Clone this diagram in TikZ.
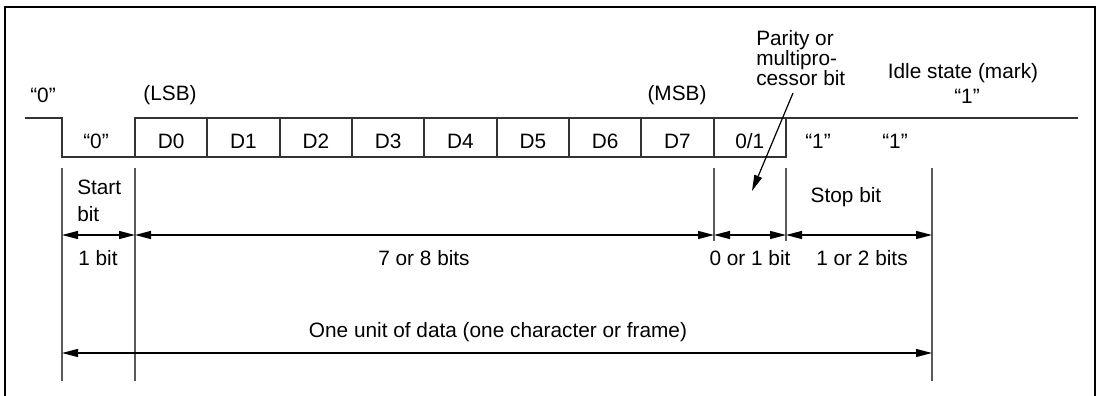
\documentclass[tikz,border=0pt]{standalone}
\usepackage{fontspec}
\setmainfont{Liberation Sans}
\usetikzlibrary{arrows.meta,positioning,calc}

\begin{document}
\begin{tikzpicture}[
  x=0.75pt, y=-0.75pt,
  lbl/.style={font=\fontsize{15.6}{15}\selectfont, inner sep=0pt},
  sig/.style={line width=1.3pt, black!80},
  tick/.style={line width=1.2pt, black!65},
  dim/.style={{Triangle[length=12pt,width=6pt]}-{Triangle[length=12pt,width=6pt]}, line width=0.9pt},
  >={Triangle[length=12pt,width=6pt]},
]
\useasboundingbox (0,0) rectangle (1097,396);
% frame
\draw[line width=2.2pt] (5,397) -- (5,7) -- (1095,7) -- (1095,397);

% signal
\draw[sig] (25,118) -- (62,118) -- (62,157) -- (786,157) -- (786,118);
\draw[sig] (135,157) -- (135,118) -- (1078,118);
\foreach \k in {1,...,8}
  \draw[sig] ({135+72.33*\k},118) -- ({135+72.33*\k},157);

% bit cells
\node[lbl] (c0) at (96,141) {``0''};
\foreach \t [count=\k from 0] in {D0,D1,D2,D3,D4,D5,D6,D7,0/1}
  \node[lbl] (b\k) at ({135+72.33*\k+36.17},141) {\t};
\node[lbl] (h1) at (818,141) {``1''};
\node[lbl] (h2) at (895,141) {``1''};

% labels above
\node[lbl] (lo)  at (43,95)  {``0''};
\node[lbl] (lsb) at (170,95) {(LSB)};
\node[lbl] (msb) at (677,95) {(MSB)};
\node[lbl, align=left, anchor=north west] (par) at (756,30)
  {Parity or\\multipro-\\cessor bit};
\node[lbl] (idle) at (963,73) {Idle state (mark)};
\node[lbl] (hi) at (967,96) {``1''};

% parity pointer
\coordinate (pa) at (793,93);
\coordinate (pb) at (752,191);
\draw[->, line width=0.9pt] (pa) -- (pb);

% ticks
\foreach \x in {62,135,932}
  \draw[tick] (\x,168) -- (\x,381);
\foreach \x in {714,786}
  \draw[tick] (\x,168) -- (\x,241);

% dimension marks
\foreach \n/\x in {s/62,d/135,p/714,q/786,e/932}{
  \coordinate (\n) at (\x,235);
  \coordinate (\n2) at (\x,353);
}
\draw[dim] (s) -- (d);
\draw[dim] (d) -- (p);
\draw[dim] (p) -- (q);
\draw[dim] (q) -- (e);
\draw[dim] (s2) -- (e2);

\node[lbl, align=left, anchor=west] (start) at (77,201) {Start\\[5pt]bit};
\node[lbl] (stop) at (846,197) {Stop bit};
\node[lbl] (w1) at (98,258)  {1 bit};
\node[lbl] (w2) at (424,258) {7 or 8 bits};
\node[lbl] (w3) at (750,258) {0 or 1 bit};
\node[lbl] (w4) at (862,258) {1 or 2 bits};
\node[lbl] (unit) at (498,332) {One unit of data (one character or frame)};
\end{tikzpicture}
\end{document}
